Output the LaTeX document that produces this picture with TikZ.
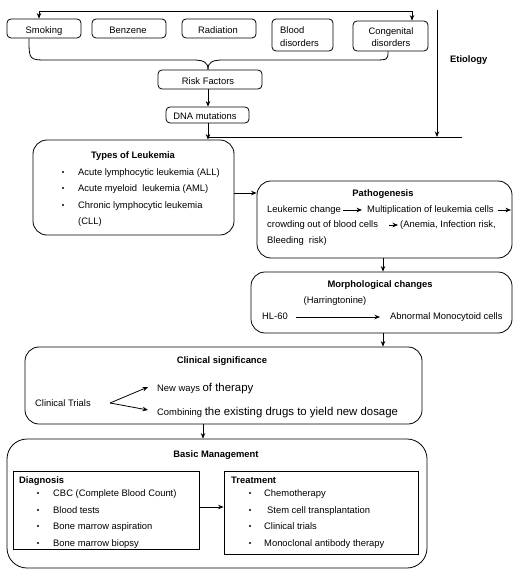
\documentclass[tikz,border=0pt]{standalone}
\usepackage{fontspec}
\setmainfont{Liberation Sans}
\usetikzlibrary{arrows.meta}
\begin{document}
\begin{tikzpicture}[x=1pt,y=-1pt,
  every node/.style={font=\fontsize{9.4}{11}\selectfont},
  box/.style={draw, line width=0.8pt, rounded corners=4pt, inner sep=0pt},
  bigbox/.style={draw, line width=0.8pt, rounded corners=14pt, inner sep=0pt},
  hugebox/.style={draw, line width=0.8pt, rounded corners=20pt, inner sep=0pt},
  sqbox/.style={draw, line width=0.8pt, inner sep=0pt},
  txt/.style={anchor=base west, inner sep=0pt, text height=7pt, text depth=2pt},
  ctxt/.style={anchor=base, inner sep=0pt, text height=7pt, text depth=2pt},
  ttl/.style={anchor=base, inner sep=0pt, font=\fontsize{9.4}{11}\selectfont\bfseries},
  lttl/.style={anchor=base west, inner sep=0pt, font=\fontsize{9.4}{11}\selectfont\bfseries},
  bul/.style={circle, fill, inner sep=0pt, minimum size=2.4pt},
  arr/.style={-{Stealth[length=5.5pt,width=4.5pt]}, line width=0.8pt},
  darr/.style={{Stealth[length=5.5pt,width=4.5pt]}-{Stealth[length=5.5pt,width=4.5pt]}, line width=0.8pt},
  ln/.style={line width=0.8pt}
]
\fill[white] (0,0) rectangle (522,588);
\useasboundingbox (0,0) rectangle (522,588);

% ---------- Etiology boxes ----------
\node[box, minimum width=74pt, minimum height=19pt] (smk) at (44,28.5) {};
\node[box, minimum width=74pt, minimum height=19pt] (benz) at (129,28.5) {};
\node[box, minimum width=74pt, minimum height=19pt] (rad) at (219,28.5) {};
\node[box, minimum width=61pt, minimum height=32pt] (blood) at (302.5,35) {};
\node[box, minimum width=75pt, minimum height=30pt] (cong) at (390.5,36) {};
\node[box, minimum width=104pt, minimum height=19pt] (risk) at (210,79.5) {};
\node[box, minimum width=83pt, minimum height=16pt] (dna) at (207.5,115) {};

\node[ctxt] (tsmk) at (44,34) {Smoking};
\node[ctxt] (tbenz) at (128,34) {Benzene};
\node[ctxt] (trad) at (218,34) {Radiation};
\node[txt] (tbl1) at (280,34) {Blood};
\node[txt] (tbl2) at (280,46.5) {disorders};
\node[ctxt] (tco1) at (391,35) {Congenital};
\node[ctxt] (tco2) at (391,47) {disorders};
\node[ctxt] (trisk) at (208,84.5) {Risk Factors};
\node[ctxt] (tdna) at (205,120) {DNA mutations};
\node[lttl] (etio) at (450,62.5) {Etiology};

% loop on top
\coordinate (lt) at (39,11);
\coordinate (rt) at (412,11);
\draw[darr] (smk.north -| lt) -- (lt) -- (rt) -- (cong.north -| rt);

% brace
\coordinate (bl) at (29,0);
\coordinate (br) at (388,0);
\draw[ln] (smk.south -| bl) .. controls (29,60) and (29,60) .. (48,60) -- (192,60)
  .. controls (204,60) and (208,62) .. (risk.north -| 208,0);
\draw[ln] (cong.south -| br) .. controls (388,60) and (388,60) .. (372,60) -- (224,60)
  .. controls (212,60) and (208,62) .. (risk.north -| 208,0);

\draw[arr] (risk.south -| 208,0) -- (dna.north -| 208,0);

% etiology line
\coordinate (hl) at (208,137);
\coordinate (hr) at (462,137);
\coordinate (et) at (437,10);
\draw[ln] (hl) -- (hr);
\draw[arr] (et) -- (et |- hl);

% ---------- Types of leukemia ----------
\node[bigbox, minimum width=201pt, minimum height=95pt] (types) at (133.5,187.5) {};
\draw[arr] (dna.south -| 208,0) -- (types.north -| 208,0);
\node[ttl] (ttypes) at (133,158.5) {Types of Leukemia};
\node[bul] (b1) at (63,172) {};
\node[bul] (b2) at (63,188) {};
\node[bul] (b3) at (63,205) {};
\node[txt] (ty1) at (78,175.5) {Acute lymphocytic leukemia (ALL)};
\node[txt] (ty2) at (78,191.5) {Acute myeloid\ \ leukemia (AML)};
\node[txt] (ty3) at (78,208.5) {Chronic lymphocytic leukemia};
\node[txt] (ty4) at (78,224.5) {(CLL)};

% ---------- Pathogenesis ----------
\node[bigbox, minimum width=255pt, minimum height=77pt] (path) at (384.5,219.5) {};
\coordinate (tp) at (0,193);
\draw[arr] (types.east |- tp) -- (path.west |- tp);
\node[ttl] (tpath) at (383,196.5) {Pathogenesis};
\node[txt] (lc) at (267,212.5) {Leukemic change};
\node[txt] (mu) at (367,212.5) {Multiplication of leukemia cells};
\node[txt] (co) at (267,227.5) {crowding out of blood cells};
\node[txt] (an) at (400,227.5) {(Anemia, Infection risk,};
\node[txt] (bl3) at (267,243.5) {Bleeding\ \ risk)};
\draw[arr] ([xshift=2pt]lc.east) -- ([xshift=-5pt]mu.west);
\draw[arr] ([xshift=4pt]mu.east) -- ([xshift=-1.5pt]mu.east -| path.east);
\draw[arr] ([xshift=11pt]co.east) -- ([xshift=-2pt]an.west);

% ---------- Morphological changes ----------
\node[bigbox, minimum width=261pt, minimum height=61pt] (morph) at (381.5,302.5) {};
\coordinate (mx) at (383,0);
\draw[arr] (path.south -| mx) -- (morph.north -| mx);
\node[ttl] (tmorph) at (380,287.5) {Morphological changes};
\node[ctxt] (harr) at (335,303.5) {(Harringtonine)};
\node[txt] (hl60) at (262,319.5) {HL-60};
\node[txt] (abn) at (390,319.5) {Abnormal Monocytoid cells};
\draw[arr] ([xshift=8pt]hl60.east) -- ([xshift=-10pt]abn.west);

% ---------- Clinical significance ----------
\node[bigbox, minimum width=397pt, minimum height=77pt] (clin) at (223.5,385.5) {};
\draw[arr] (morph.south -| mx) -- (clin.north -| mx);
\node[ttl] (tclin) at (222,363.5) {Clinical significance};
\node[txt] (ctr) at (35,406.5) {Clinical Trials};
\node[txt] (nw) at (157,391) {New ways {\fontsize{11.4}{13}\selectfont of therapy}};
\node[txt] (cmb) at (157,415) {Combining {\fontsize{11.4}{13}\selectfont the existing drugs to yield new dosage}};
\coordinate (cs) at (110,403);
\draw[arr] (cs) -- (148,387);
\draw[arr] (cs) -- (148,410);

% ---------- Basic management ----------
\node[hugebox, minimum width=420pt, minimum height=129pt] (basic) at (217,503.5) {};
\coordinate (cx) at (203,0);
\draw[arr] (clin.south -| cx) -- (basic.north -| cx);
\node[ttl] (tbasic) at (216,457.5) {Basic Management};

\node[sqbox, minimum width=186pt, minimum height=78pt] (diag) at (106,510) {};
\node[sqbox, minimum width=194pt, minimum height=83pt] (treat) at (321,512.5) {};
\coordinate (ba) at (0,507);
\draw[arr] (diag.east |- ba) -- (treat.west |- ba);

\node[lttl] (tdiag) at (19,483.5) {Diagnosis};
\node[bul] (d1) at (38,493) {};
\node[bul] (d2) at (38,510) {};
\node[bul] (d3) at (38,526) {};
\node[bul] (d4) at (38,543) {};
\node[txt] (dt1) at (53,496.5) {CBC (Complete Blood Count)};
\node[txt] (dt2) at (53,513.5) {Blood tests};
\node[txt] (dt3) at (53,529.5) {Bone marrow aspiration};
\node[txt] (dt4) at (53,546) {Bone marrow biopsy};

\node[lttl] (ttreat) at (231,483.5) {Treatment};
\node[bul] (t1) at (250,493) {};
\node[bul] (t2) at (250,510) {};
\node[bul] (t3) at (250,526) {};
\node[bul] (t4) at (250,543) {};
\node[txt] (tt1) at (264,496.5) {Chemotherapy};
\node[txt] (tt2) at (267,513.5) {Stem cell transplantation};
\node[txt] (tt3) at (264,529.5) {Clinical trials};
\node[txt] (tt4) at (264,546.5) {Monoclonal antibody therapy};
\end{tikzpicture}
\end{document}
